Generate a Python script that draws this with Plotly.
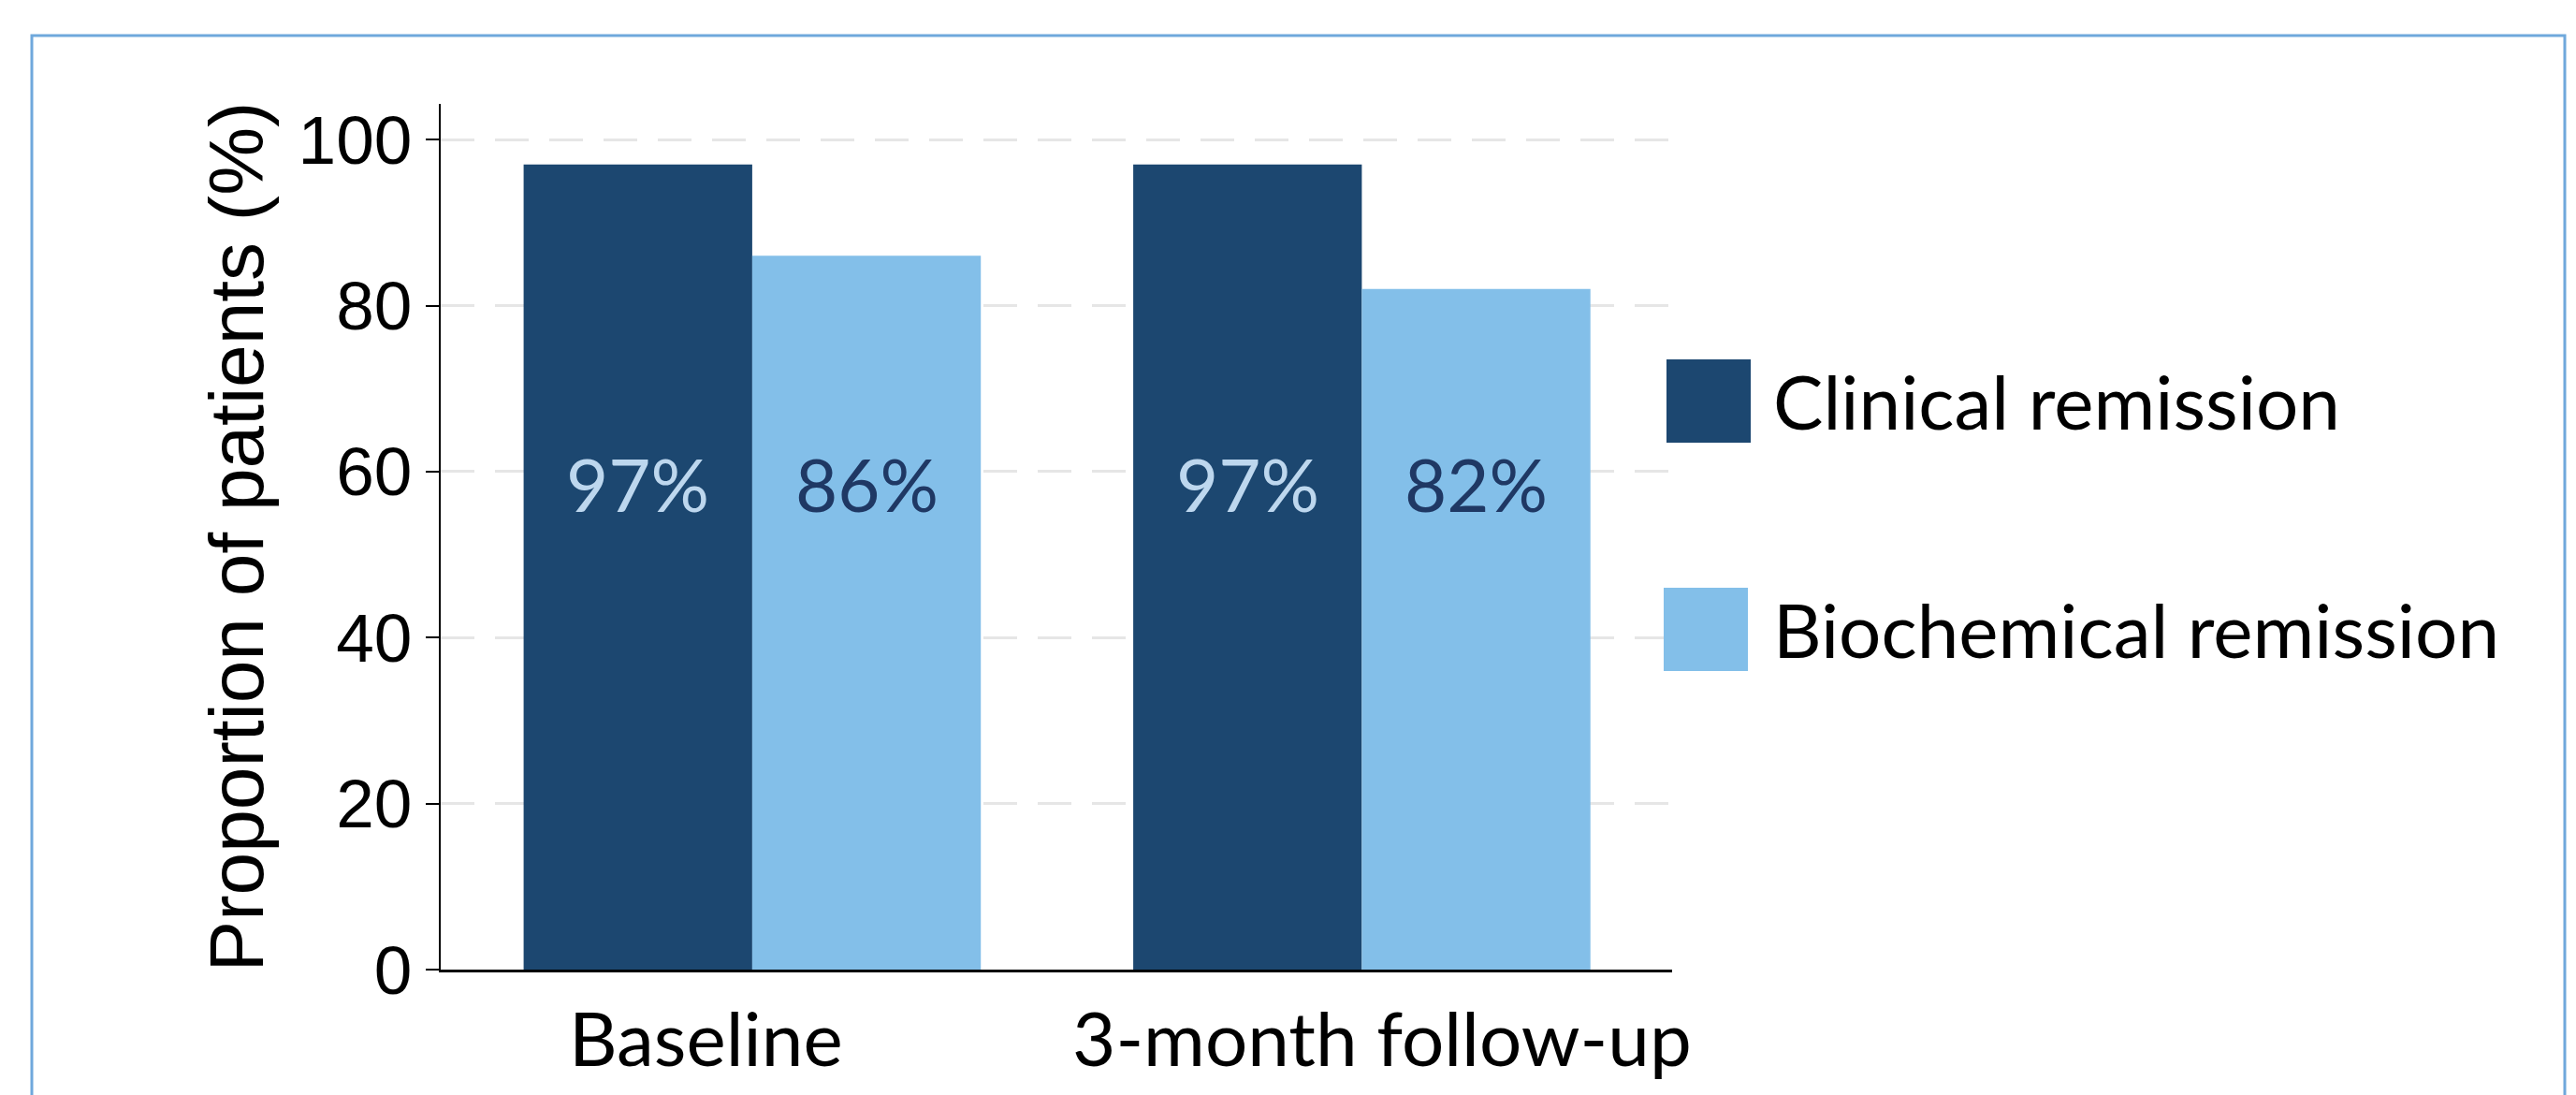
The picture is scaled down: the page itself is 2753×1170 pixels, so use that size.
import plotly.graph_objects as go

# ---- data ----
categories = ["Baseline", "3-month follow-up"]
clinical = [97, 97]
biochemical = [86, 82]
clinical_labels = ["97%", "97%"]
biochemical_labels = ["86%", "82%"]
series_names = ["Clinical remission", "Biochemical remission"]
y_ticks = [0, 20, 40, 60, 80, 100]

# ---- style ----
W, H = 2753, 1170
ML, MR, MT, MB = 471, 966, 111, 134
PW, PH = W - ML - MR, H - MT - MB
DARK = "#1C4770"
LIGHT = "#83BFE9"
LBL_ON_DARK = "#BDD7EE"
LBL_ON_LIGHT = "#1F3864"
CAL = "Lato, Carlito, Calibri, sans-serif"
ARI = "Liberation Sans, Arial, sans-serif"
BARGAP = 0.25
LABEL_Y = 58.5


def px_x(px):
    return (px - ML) / PW


def px_y(py):
    return (H - MB - py) / PH


fig = go.Figure()
fig.add_trace(go.Bar(x=categories, y=clinical, name=series_names[0],
                     marker=dict(color=DARK, line=dict(width=0)), showlegend=False))
fig.add_trace(go.Bar(x=categories, y=biochemical, name=series_names[1],
                     marker=dict(color=LIGHT, line=dict(width=0)), showlegend=False))

half = (1 - BARGAP) / 4
annotations = []
for i, cat in enumerate(categories):
    annotations.append(dict(x=i - half, y=LABEL_Y, xref="x", yref="y", text=clinical_labels[i],
                            showarrow=False, font=dict(family=CAL, size=78, color=LBL_ON_DARK),
                            xanchor="center", yanchor="middle"))
    annotations.append(dict(x=i + half, y=LABEL_Y, xref="x", yref="y", text=biochemical_labels[i],
                            showarrow=False, font=dict(family=CAL, size=78, color=LBL_ON_LIGHT),
                            xanchor="center", yanchor="middle"))

# category labels (slightly offset as in the original)
cat_shift = [-49, 22]
for i, cat in enumerate(categories):
    annotations.append(dict(x=i, y=px_y(1108), xref="x", yref="paper", text=cat, showarrow=False,
                            xshift=cat_shift[i], font=dict(family=CAL, size=80, color="black"),
                            xanchor="center", yanchor="middle"))

# manual legend
shapes = []
leg = [(series_names[0], DARK, 1781, 384), (series_names[1], LIGHT, 1778, 628)]
for name, col, x0, y0 in leg:
    shapes.append(dict(type="rect", xref="paper", yref="paper",
                       x0=px_x(x0), x1=px_x(x0 + 90), y0=px_y(y0 + 89), y1=px_y(y0),
                       fillcolor=col, line=dict(width=0)))
    annotations.append(dict(x=px_x(1893), y=px_y(y0 + 44), xref="paper", yref="paper", text=name,
                            showarrow=False, font=dict(family=CAL, size=80, color="black"),
                            xanchor="left", yanchor="middle"))

# outer blue frame
shapes.append(dict(type="rect", xref="paper", yref="paper", layer="below",
                   x0=px_x(34), x1=px_x(2741), y0=px_y(1200), y1=px_y(38),
                   fillcolor="rgba(0,0,0,0)", line=dict(color="#6FA8DC", width=3)))

fig.update_layout(
    width=W, height=H, autosize=False,
    margin=dict(l=ML, r=MR, t=MT, b=MB, pad=0),
    paper_bgcolor="white", plot_bgcolor="white",
    barmode="group", bargap=BARGAP, bargroupgap=0,
    annotations=annotations, shapes=shapes,
    xaxis=dict(type="category", range=[-0.511, 1.509], showline=True, linecolor="black",
               linewidth=3, ticks="", showticklabels=False, showgrid=False, zeroline=False),
    yaxis=dict(range=[0, 104.3], tickvals=y_ticks, showline=True, linecolor="black", linewidth=2,
               ticks="outside", ticklen=14, tickwidth=2, tickcolor="black",
               tickfont=dict(family=ARI, size=73, color="black"),
               showgrid=True, gridcolor="#E6E6E6", gridwidth=3, griddash="36px,22px",
               zeroline=False,
               title=dict(text="Proportion of patients (%)", standoff=10,
                          font=dict(family=ARI, size=82, color="black"))),
)

fig.write_html("out.html")
